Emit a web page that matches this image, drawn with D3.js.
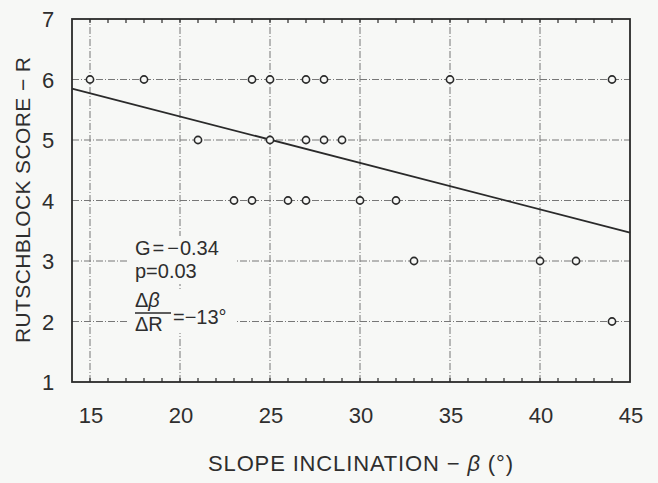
<!DOCTYPE html>
<html>
<head>
<meta charset="utf-8">
<script src="https://cdn.jsdelivr.net/npm/d3@7"></script>
<style>
  body { margin: 0; background: #f7f8f6; }
  text { font-family: "Liberation Sans", Arial, sans-serif; fill: #2e2e2e; }
</style>
</head>
<body>
<script>
// observations: slope inclination (deg) and rutschblock score
var slopeDeg = [15, 18, 24, 25, 27, 28, 35, 44,
                21, 25, 27, 28, 29,
                23, 24, 26, 27, 30, 32,
                33, 40, 42,
                44];
var rbScore = [6, 6, 6, 6, 6, 6, 6, 6,
               5, 5, 5, 5, 5,
               4, 4, 4, 4, 4, 4,
               3, 3, 3,
               2];

// regression line end points
var fitX = [14, 45];
var fitR = [5.85, 3.47];

var xTicks = [15, 20, 25, 30, 35, 40, 45];
var yTicks = [1, 2, 3, 4, 5, 6, 7];
var xGrid = [15, 20, 25, 30, 35, 40];
var yGrid = [2, 3, 4, 5, 6];

var width = 658, height = 483;
var margin = {left: 72, right: 28, top: 19, bottom: 101};
var bg = "#f7f8f6";

var svg = d3.select("body").append("svg")
    .attr("width", width)
    .attr("height", height);

var x = d3.scaleLinear().domain([14, 45]).range([margin.left, width - margin.right]);
var y = d3.scaleLinear().domain([1, 7]).range([height - margin.bottom, margin.top]);

var ink = "#2a2a2a";

//grid lines
svg.append("g").selectAll("line")
    .data(yGrid)
    .enter().append("line")
    .attr("x1", x(14)).attr("x2", x(45))
    .attr("y1", (d) => y(d)).attr("y2", (d) => y(d))
    .attr("stroke", "#777")
    .attr("stroke-width", 1)
    .attr("stroke-dasharray", "7,2,1,2");

svg.append("g").selectAll("line")
    .data(xGrid)
    .enter().append("line")
    .attr("x1", (d) => x(d)).attr("x2", (d) => x(d))
    .attr("y1", y(1)).attr("y2", y(7))
    .attr("stroke", "#777")
    .attr("stroke-width", 1)
    .attr("stroke-dasharray", "7,2,1,2");

//minor ticks on top and bottom
var minor = d3.range(15, 45);
svg.append("g").selectAll("line")
    .data(minor)
    .enter().append("line")
    .attr("x1", (d) => x(d)).attr("x2", (d) => x(d))
    .attr("y1", y(1)).attr("y2", y(1) - 4)
    .attr("stroke", ink).attr("stroke-width", 1.2);
svg.append("g").selectAll("line")
    .data(minor)
    .enter().append("line")
    .attr("x1", (d) => x(d)).attr("x2", (d) => x(d))
    .attr("y1", y(7)).attr("y2", y(7) + 4)
    .attr("stroke", ink).attr("stroke-width", 1.2);

//frame
svg.append("rect")
    .attr("x", x(14)).attr("y", y(7))
    .attr("width", x(45) - x(14)).attr("height", y(1) - y(7))
    .attr("fill", "none")
    .attr("stroke", ink)
    .attr("stroke-width", 1.8);

//annotation block with light backing
var note = svg.append("g");
var noteX = 135;
var fs = "20px";
note.append("rect").attr("x", 128).attr("y", 236).attr("width", 108).attr("height", 48).attr("fill", bg);
note.append("rect").attr("x", 128).attr("y", 289).attr("width", 108).attr("height", 44).attr("fill", bg);
var g1 = note.append("text").attr("x", noteX).attr("y", 255).style("font-size", fs);
g1.append("tspan").text("G");
g1.append("tspan").attr("dx", 2).text("=");
g1.append("tspan").attr("dx", 3).text("\u2212");
g1.append("tspan").attr("dx", 1).text("0.34");
note.append("text").attr("x", noteX).attr("y", 278).style("font-size", fs).text("p=0.03");
var db = note.append("text").attr("x", noteX).attr("y", 307).style("font-size", fs);
db.append("tspan").text("\u0394");
db.append("tspan").style("font-style", "italic").text("\u03b2");
note.append("line").attr("x1", noteX).attr("x2", noteX + 36).attr("y1", 313).attr("y2", 313)
    .attr("stroke", ink).attr("stroke-width", 1.4);
note.append("text").attr("x", noteX).attr("y", 331).style("font-size", fs).text("\u0394R");
note.append("text").attr("x", noteX + 38).attr("y", 324).style("font-size", fs)
    .text("=\u221213\u00b0");

//regression line
svg.append("line")
    .attr("x1", x(fitX[0])).attr("y1", y(fitR[0]))
    .attr("x2", x(fitX[1])).attr("y2", y(fitR[1]))
    .attr("stroke", ink)
    .attr("stroke-width", 1.8);

//points
svg.append("g").selectAll("circle")
    .data(slopeDeg.map((d, i) => ({b: d, r: rbScore[i]})))
    .enter().append("circle")
    .attr("cx", (d) => x(d.b))
    .attr("cy", (d) => y(d.r))
    .attr("r", 3.6)
    .attr("fill", bg)
    .attr("stroke", ink)
    .attr("stroke-width", 1.6);

//tick labels
svg.append("g").selectAll("text")
    .data(xTicks)
    .enter().append("text")
    .attr("x", (d) => x(d) + 1)
    .attr("y", y(1) + 41)
    .attr("text-anchor", "middle")
    .style("font-size", "22px")
    .text((d) => d);

svg.append("g").selectAll("text")
    .data(yTicks)
    .enter().append("text")
    .attr("x", 48)
    .attr("y", (d) => y(d) + 8)
    .attr("text-anchor", "middle")
    .style("font-size", "22px")
    .text((d) => d);

//axis titles
var xt = svg.append("text")
    .attr("x", 208)
    .attr("y", 471)
    .style("font-size", "22px")
    .attr("textLength", 305)
    .attr("lengthAdjust", "spacing");
xt.append("tspan").text("SLOPE INCLINATION \u2212 ");
xt.append("tspan").style("font-style", "italic").text("\u03b2");
xt.append("tspan").text(" (\u00b0)");

svg.append("text")
    .attr("transform", "translate(30,343) rotate(-90)")
    .style("font-size", "21px")
    .attr("textLength", 286)
    .attr("lengthAdjust", "spacing")
    .text("RUTSCHBLOCK SCORE \u2212 R");
</script>
</body>
</html>
